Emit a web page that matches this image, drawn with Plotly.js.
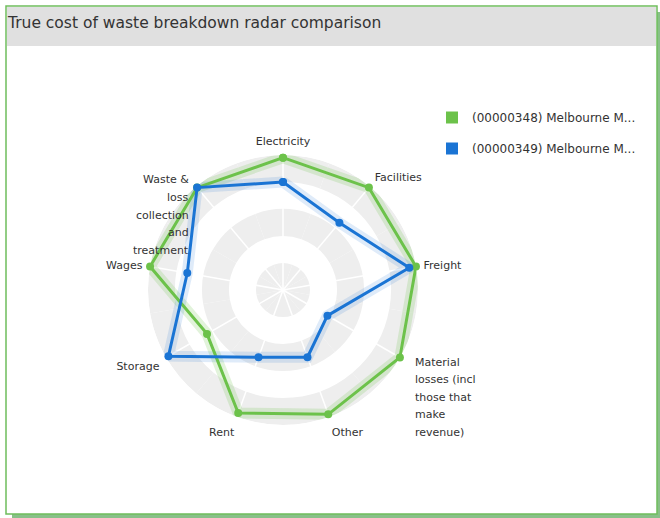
<!DOCTYPE html>
<html>
<head>
<meta charset="utf-8">
<script src="https://cdn.plot.ly/plotly-3.0.1.min.js"></script>
<style>
  html, body { margin: 0; padding: 0; background: #ffffff; }
  #chart { width: 660px; height: 518px; }
</style>
</head>
<body>
<div id="chart"></div>
<script>
// ---- data ----
const categories = [
  'Electricity',
  'Facilities',
  'Freight',
  'Material losses (incl those that make revenue)',
  'Other',
  'Rent',
  'Storage',
  'Wages',
  'Waste & loss collection and treatment'
];
// axis labels: single-line labels are drawn as tick labels,
// wrapped labels are listed line by line
const tickLabels = ['Electricity', 'Facilities', 'Freight', '', 'Other', 'Rent', 'Storage', 'Wages', ''];
const materialLines = ['Material', 'losses (incl', 'those that', 'make', 'revenue)'];
const wasteLines = ['Waste &', 'loss', 'collection', 'and', 'treatment'];

const seriesNames = ['(00000348) Melbourne M...', '(00000349) Melbourne M...'];
const series348 = [98, 99, 100, 100, 98, 97, 65, 100, 99];
const series349 = [80, 65, 95, 38, 53, 53, 98, 72, 99];

const colors = ['#6cc24a', '#1a74d4'];
const glowColors = ['rgba(108,194,74,0.20)', 'rgba(26,116,212,0.14)'];

// background band edges on the radial scale
const radialMax = 100;
const bandEdges = [0, 20, 40, 60, 80, 100];

// ---- helpers ----
const W = 660, H = 518;
const px = v => v / W;
const py = v => 1 - v / H;
const closeLoop = arr => arr.concat([arr[0]]);

const traces = [];

// gray rings (polar subplot 1, underneath)
for (let i = 0; i < bandEdges.length - 1; i += 2) {
  traces.push({
    type: 'barpolar',
    subplot: 'polar',
    theta: categories,
    r: categories.map(() => bandEdges[i + 1] - bandEdges[i]),
    base: categories.map(() => bandEdges[i]),
    marker: { color: '#eeeeee', line: { width: 0 } },
    hoverinfo: 'skip',
    showlegend: false
  });
}

const allSeries = [series348, series349];
// glows
allSeries.forEach((s, k) => {
  traces.push({
    type: 'scatterpolar',
    subplot: 'polar2',
    theta: closeLoop(categories),
    r: closeLoop(s),
    mode: 'lines',
    line: { color: glowColors[k], width: 11 },
    hoverinfo: 'skip',
    showlegend: false
  });
});
// main series
allSeries.forEach((s, k) => {
  traces.push({
    type: 'scatterpolar',
    subplot: 'polar2',
    name: seriesNames[k],
    theta: closeLoop(categories),
    r: closeLoop(s),
    mode: 'lines+markers',
    line: { color: colors[k], width: 3 },
    marker: { color: colors[k], size: 8 },
    showlegend: false
  });
});
// legend entries (colour keys only)
seriesNames.forEach((n, k) => {
  traces.push({
    type: 'barpolar',
    subplot: 'polar2',
    name: n,
    theta: [categories[0]],
    r: [null],
    marker: { color: colors[k], line: { width: 0 } },
    legendgroup: 'g' + k,
    showlegend: true,
    hoverinfo: 'skip'
  });
});

const dom = { x: [px(283 - 135), px(283 + 135)], y: [py(290 + 135), py(290 - 135)] };
const hiddenRadial = {
  range: [0, radialMax], showgrid: false, showline: false,
  showticklabels: false, ticks: ''
};
const labelFont = { family: 'DejaVu Sans, sans-serif', size: 11, color: '#333333' };

const annotations = [];
const lineStep = 17.6;
materialLines.forEach((t, i) => annotations.push({
  text: t, showarrow: false, xref: 'paper', yref: 'paper',
  x: px(413), xanchor: 'left', y: py(362 + i * lineStep), yanchor: 'middle',
  font: labelFont
}));
wasteLines.forEach((t, i) => annotations.push({
  text: t, showarrow: false, xref: 'paper', yref: 'paper',
  x: px(191), xanchor: 'right', y: py(180 + i * lineStep), yanchor: 'middle',
  font: labelFont
}));

const layout = {
  width: W, height: H,
  margin: { l: 0, r: 0, t: 0, b: 0 },
  paper_bgcolor: '#ffffff',
  font: { family: 'DejaVu Sans, sans-serif', color: '#333333' },
  title: {
    text: 'True cost of waste breakdown radar comparison',
    x: px(8), xanchor: 'left', xref: 'paper',
    y: py(23), yanchor: 'middle', yref: 'paper',
    font: { family: 'DejaVu Sans, sans-serif', size: 15.5, color: '#333333' }
  },
  annotations: annotations,
  shapes: [
    { type: 'rect', xref: 'paper', yref: 'paper', layer: 'below',
      x0: px(12), x1: px(661), y0: py(519), y1: py(12),
      fillcolor: '#88c088', line: { width: 0 } },
    { type: 'rect', xref: 'paper', yref: 'paper', layer: 'below',
      x0: px(6), x1: px(657), y0: py(514), y1: py(6),
      fillcolor: '#ffffff', line: { color: '#6fbd5c', width: 1.5 } },
    { type: 'rect', xref: 'paper', yref: 'paper', layer: 'below',
      x0: px(7), x1: px(656), y0: py(46), y1: py(7),
      fillcolor: '#e0e0e0', line: { width: 0 } }
  ],
  polar: {
    domain: dom,
    bgcolor: '#ffffff',
    barmode: 'overlay',
    bargap: 0,
    radialaxis: hiddenRadial,
    angularaxis: {
      type: 'category', categoryarray: categories, rotation: 90, direction: 'clockwise',
      showgrid: false, showline: false, showticklabels: false, ticks: ''
    }
  },
  polar2: {
    domain: dom,
    bgcolor: 'rgba(0,0,0,0)',
    radialaxis: hiddenRadial,
    angularaxis: {
      type: 'category', categoryarray: categories, rotation: 90, direction: 'clockwise',
      showgrid: true, gridcolor: '#ffffff', gridwidth: 1.5,
      showline: false, ticks: 'outside', ticklen: 5, tickcolor: 'rgba(0,0,0,0)',
      tickmode: 'array', tickvals: categories, ticktext: tickLabels,
      tickfont: labelFont
    }
  },
  showlegend: true,
  legend: {
    x: px(432), xanchor: 'left', y: py(103), yanchor: 'top',
    bgcolor: 'rgba(0,0,0,0)',
    font: { family: 'DejaVu Sans, sans-serif', size: 12, color: '#333333' },
    traceorder: 'grouped', tracegroupgap: 12
  }
};

Plotly.newPlot('chart', traces, layout, { displayModeBar: false, staticPlot: true });
</script>
</body>
</html>
